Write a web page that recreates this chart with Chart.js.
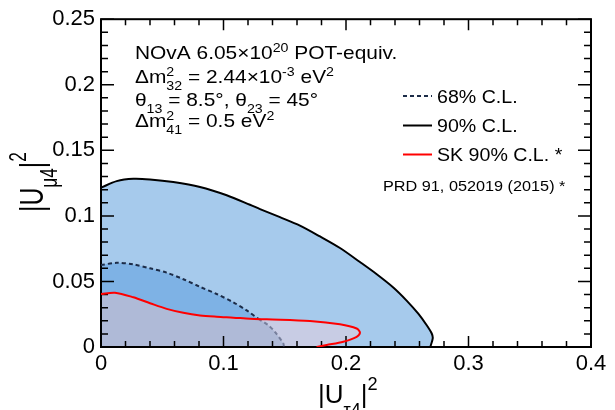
<!DOCTYPE html>
<html>
<head>
<meta charset="utf-8">
<script src="https://cdn.jsdelivr.net/npm/chart.js@4.4.0/dist/chart.umd.min.js"></script>
<style>html, body { margin: 0; padding: 0; background: #fff; }</style>
</head>
<body>
<canvas id="myChart" width="615" height="410"></canvas>
<script>
// contour points: x = |U_tau4|^2, y = |U_mu4|^2
let cl90X = [0, 0.0128, 0.0264, 0.040, 0.059, 0.0808, 0.1026, 0.1216, 0.1298, 0.1461, 0.1624, 0.1788, 0.1951, 0.2114, 0.2251, 0.2386, 0.2495, 0.259, 0.2659, 0.270, 0.2708, 0.2688];
let cl90Y = [0.1215, 0.1265, 0.1283, 0.1278, 0.1258, 0.122, 0.1157, 0.1085, 0.1052, 0.099, 0.0926, 0.0843, 0.0755, 0.0648, 0.0555, 0.0454, 0.0354, 0.0254, 0.0166, 0.0103, 0.0066, 0];

let cl68X = [0, 0.0128, 0.0264, 0.040, 0.0536, 0.0672, 0.0808, 0.0944, 0.108, 0.1189, 0.1284, 0.1366, 0.142, 0.1488, 0.1494];
let cl68Y = [0.0625, 0.0642, 0.063, 0.060, 0.0567, 0.0517, 0.0459, 0.0404, 0.0341, 0.0279, 0.0216, 0.0166, 0.0115, 0.0028, 0];

let skX = [0, 0.0114, 0.0264, 0.040, 0.0536, 0.0672, 0.0808, 0.0944, 0.108, 0.1216, 0.1353, 0.1706, 0.1951, 0.2087, 0.2114, 0.2087, 0.1978, 0.1842, 0.176];
let skY = [0.0404, 0.0414, 0.0379, 0.0334, 0.0291, 0.0261, 0.0241, 0.0231, 0.0224, 0.0216, 0.0211, 0.0198, 0.0173, 0.0141, 0.011, 0.0078, 0.004, 0.0015, 0];

let seriesLabels = ["90% C.L.", "68% C.L.", "SK 90% C.L. *"];
let xMinorStep = 0.02;
let yMinorStep = 0.01;

const FONT = '"Liberation Sans", Arial, Helvetica, sans-serif';

function toPoints(xs, ys){
    return xs.map((x, i) => ({x: x, y: ys[i]}));
}

// text with sub/superscripts, ROOT style
function drawRich(ctx, x, y, parts, size, sx, sy, supOff, subOff, smallRatio){
    ctx.save();
    ctx.translate(x, y);
    ctx.scale(sx, sy);
    ctx.fillStyle = "#000";
    ctx.textBaseline = "alphabetic";
    let cx = 0;
    let small = size * (smallRatio || 0.7);
    for (const p of parts){
        if (typeof p === "string"){
            ctx.font = size + "px " + FONT;
            ctx.fillText(p, cx, 0);
            cx += ctx.measureText(p).width;
        } else {
            ctx.font = small + "px " + FONT;
            let w = 0;
            if (p.sup){ ctx.fillText(p.sup, cx, -size * supOff); w = Math.max(w, ctx.measureText(p.sup).width); }
            if (p.sub){ ctx.fillText(p.sub, cx, size * subOff); w = Math.max(w, ctx.measureText(p.sub).width); }
            cx += w;
        }
    }
    ctx.restore();
}

function drawFrame(chart){
    let ctx = chart.ctx, a = chart.chartArea, xs = chart.scales.x, ys = chart.scales.y;
    ctx.save();
    ctx.strokeStyle = "#000";
    ctx.lineWidth = 1.5;
    ctx.beginPath();
    let nx = Math.round((xs.max - xs.min) / xMinorStep);
    for (let i = 0; i <= nx; i++){
        let px = xs.getPixelForValue(xs.min + i * xMinorStep);
        let len = i % 5 === 0 ? 11 : 6;
        ctx.moveTo(px, a.bottom); ctx.lineTo(px, a.bottom - len);
        ctx.moveTo(px, a.top); ctx.lineTo(px, a.top + len);
    }
    let ny = Math.round((ys.max - ys.min) / yMinorStep);
    for (let i = 0; i <= ny; i++){
        let py = ys.getPixelForValue(ys.min + i * yMinorStep);
        let len = i % 5 === 0 ? 13 : 7;
        ctx.moveTo(a.left, py); ctx.lineTo(a.left + len, py);
        ctx.moveTo(a.right, py); ctx.lineTo(a.right - len, py);
    }
    ctx.stroke();
    ctx.lineWidth = 2;
    ctx.strokeRect(a.left, a.top, a.right - a.left, a.bottom - a.top);
    ctx.restore();
}

const contourFill = {
    id: "contourFill",
    beforeDatasetsDraw(chart){
        let ctx = chart.ctx, a = chart.chartArea;
        let x0 = chart.scales.x.getPixelForValue(0);
        let y0 = chart.scales.y.getPixelForValue(0);
        function region(i){
            let meta = chart.getDatasetMeta(i);
            meta.dataset.updateControlPoints(a, "x");
            let pts = meta.data;
            ctx.beginPath();
            ctx.moveTo(pts[0].x, pts[0].y);
            for (let k = 1; k < pts.length; k++){
                let p = pts[k - 1], q = pts[k];
                if (p.cp2x !== undefined && q.cp1x !== undefined){
                    ctx.bezierCurveTo(p.cp2x, p.cp2y, q.cp1x, q.cp1y, q.x, q.y);
                } else {
                    ctx.lineTo(q.x, q.y);
                }
            }
            ctx.lineTo(x0, y0);
            ctx.closePath();
        }
        ctx.save();
        ctx.beginPath();
        ctx.rect(a.left, a.top, a.right - a.left, a.bottom - a.top);
        ctx.clip();
        region(0); ctx.fillStyle = "rgb(166,202,236)"; ctx.fill();
        region(1); ctx.fillStyle = "rgb(126,178,229)"; ctx.fill();
        region(2); ctx.fillStyle = "rgb(200,204,228)"; ctx.fill();
        ctx.save();
        region(2); ctx.clip();
        region(1); ctx.fillStyle = "rgb(175,186,215)"; ctx.fill();
        ctx.restore();
        ctx.restore();
        drawFrame(chart);
    },
    afterDraw(chart){
        let ctx = chart.ctx;
        let s = 1.1;
        // info block
        drawRich(ctx, 135, 59, ["NOvA 6.05\u00d710", {sup: "20"}, " POT-equiv."], 19, s, 1, 0.35, 0.36, 0.68);
        drawRich(ctx, 135, 83, ["\u0394m", {sup: "2", sub: "32"}, " = 2.44\u00d710", {sup: "-3"}, " eV", {sup: "2"}], 19, s, 1, 0.35, 0.36, 0.68);
        drawRich(ctx, 135, 106, ["\u03b8", {sub: "13"}, " = 8.5\u00b0, \u03b8", {sub: "23"}, " = 45\u00b0"], 19, s, 1, 0.35, 0.36, 0.68);
        drawRich(ctx, 135, 127, ["\u0394m", {sup: "2", sub: "41"}, " = 0.5 eV", {sup: "2"}], 19, s, 1, 0.35, 0.36, 0.68);

        // legend
        let order = [1, 0, 2];
        let rows = [102.5, 132, 161];
        order.forEach((di, k) => {
            let ds = chart.data.datasets[di];
            let yy = rows[k];
            ctx.save();
            ctx.strokeStyle = ds.borderColor;
            ctx.lineWidth = 2;
            ctx.setLineDash(ds.borderDash || []);
            ctx.beginPath();
            ctx.moveTo(403, yy - 6.5);
            ctx.lineTo(432, yy - 6.5);
            ctx.stroke();
            ctx.restore();
            drawRich(ctx, 437, yy, [ds.label], 17.5, 1.12, 1, 0.35, 0.36);
        });
        drawRich(ctx, 383, 191, ["PRD 91, 052019 (2015) *"], 14.5, 1.12, 1, 0.35, 0.36);

        // axis titles
        drawRich(ctx, 318, 402.7, ["|U", {sub: "\u03c44"}, "|", {sup: "2"}], 26, 1.0, 1, 0.49, 0.51);
        ctx.save();
        ctx.translate(43, 212);
        ctx.rotate(-Math.PI / 2);
        drawRich(ctx, 0, 0, ["|U", {sub: "\u03bc4"}, "|", {sup: "2"}], 26, 0.95, 1.3, 0.49, 0.4);
        ctx.restore();
    }
};

let ctx = document.getElementById("myChart").getContext("2d");
let myChart = new Chart(ctx, {
    type: "scatter",
    data: {
        datasets: [{
            label: seriesLabels[0],
            data: toPoints(cl90X, cl90Y),
            showLine: true,
            borderColor: "#000",
            borderWidth: 2,
            pointRadius: 0,
            tension: 0.3,
            order: 3
        }, {
            label: seriesLabels[1],
            data: toPoints(cl68X, cl68Y),
            showLine: true,
            borderColor: "rgb(28,44,72)",
            borderDash: [4, 3],
            borderWidth: 2,
            pointRadius: 0,
            tension: 0.3,
            segment: {
                borderColor: c => c.p0DataIndex >= 10 ? "rgba(60,70,100,0.55)" : undefined
            },
            order: 2
        }, {
            label: seriesLabels[2],
            data: toPoints(skX, skY),
            showLine: true,
            borderColor: "rgb(255,0,0)",
            borderWidth: 2,
            pointRadius: 0,
            tension: 0.3,
            order: 1
        }]
    },
    options: {
        responsive: false,
        animation: false,
        devicePixelRatio: 1,
        layout: { padding: { top: 15, right: 24, left: 0, bottom: 0 } },
        plugins: {
            legend: { display: false },
            title: { display: false },
            tooltip: { enabled: false }
        },
        scales: {
            x: {
                type: "linear",
                min: 0,
                max: 0.4,
                ticks: {
                    stepSize: 0.1, color: "#000", padding: 4, maxRotation: 0, autoSkip: false,
                    font: { family: FONT, size: 22 },
                    callback: v => String(Math.round(v * 100) / 100)
                },
                grid: { display: false, drawTicks: false },
                border: { display: false },
                afterFit: s => { s.height = 63; }
            },
            y: {
                type: "linear",
                min: 0,
                max: 0.25,
                ticks: {
                    stepSize: 0.05, color: "#000", padding: 6, autoSkip: false,
                    font: { family: FONT, size: 22 },
                    callback: v => String(Math.round(v * 100) / 100)
                },
                grid: { display: false, drawTicks: false },
                border: { display: false },
                afterFit: s => { s.width = 101; }
            }
        }
    },
    plugins: [contourFill]
});
</script>
</body>
</html>
